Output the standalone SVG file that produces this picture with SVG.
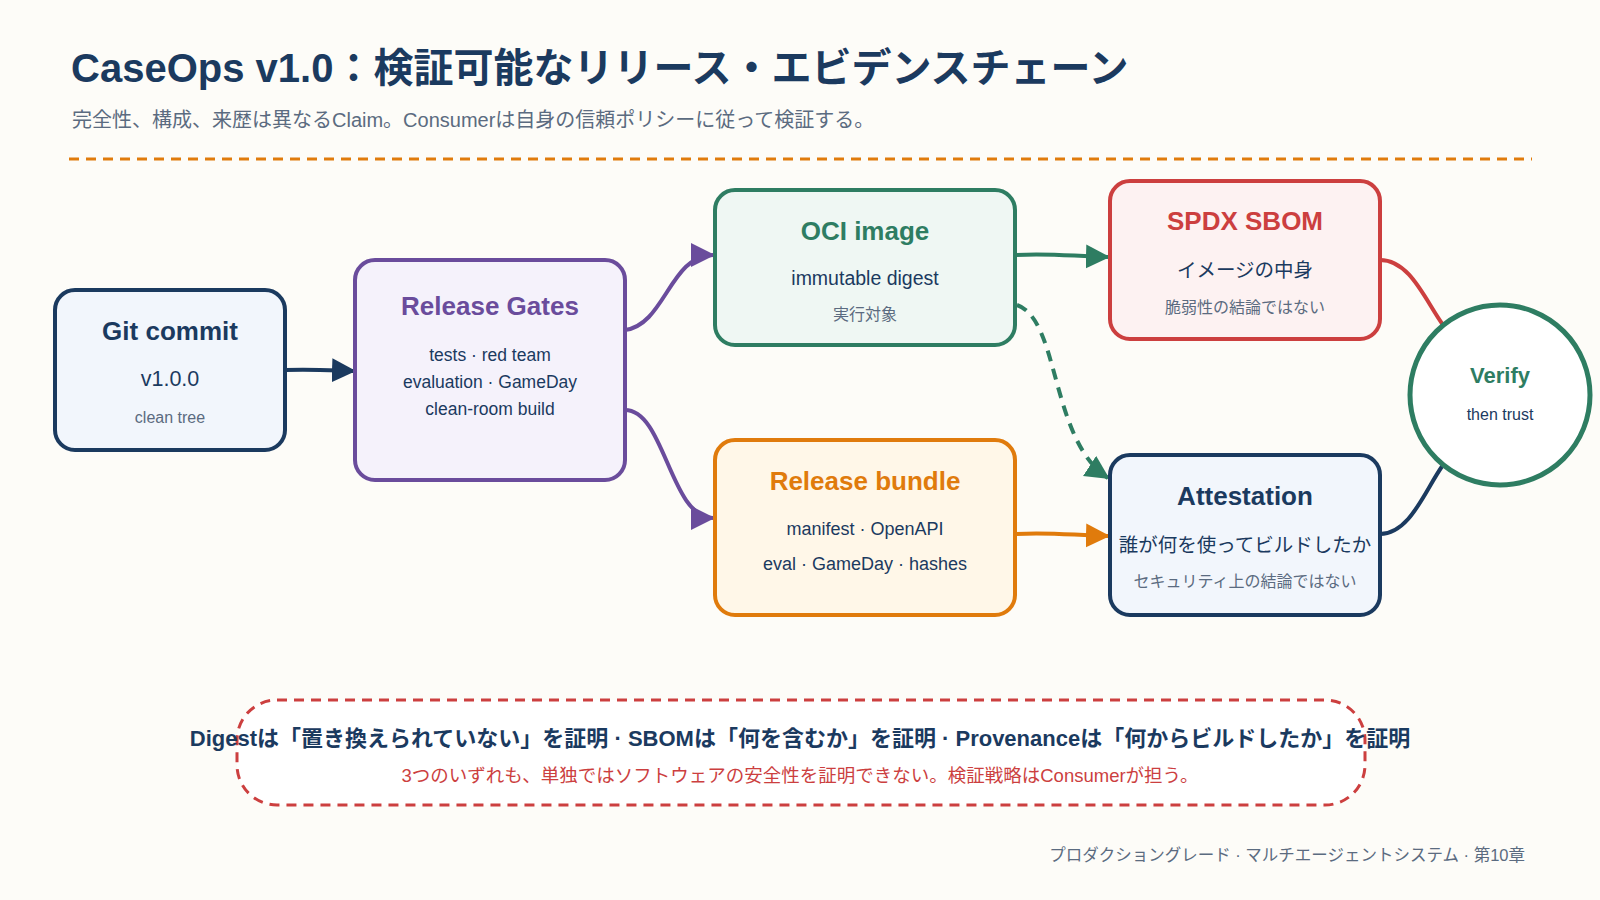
<svg xmlns="http://www.w3.org/2000/svg" width="1600" height="900" viewBox="0 0 1600 900">
<style>
text{font-family:"Liberation Sans","Noto Sans CJK JP",sans-serif;text-anchor:middle}
.box{stroke-width:4}
.t{font-size:26px;font-weight:bold}
.b{font-size:18px;fill:#1b3a5f}
.s{font-size:16px;fill:#5b6b80}
.c{fill:none;stroke-width:4}
</style>
<defs>
<marker id="mNavy" markerUnits="userSpaceOnUse" markerWidth="26" markerHeight="26" refX="22" refY="12" orient="auto"><path d="M0,0 L24,12 L0,24 z" fill="#1b3a5f"/></marker>
<marker id="mPurple" markerUnits="userSpaceOnUse" markerWidth="26" markerHeight="26" refX="22" refY="12" orient="auto"><path d="M0,0 L24,12 L0,24 z" fill="#6a4c9c"/></marker>
<marker id="mGreen" markerUnits="userSpaceOnUse" markerWidth="26" markerHeight="26" refX="22" refY="12" orient="auto"><path d="M0,0 L24,12 L0,24 z" fill="#2e7d62"/></marker>
<marker id="mOrange" markerUnits="userSpaceOnUse" markerWidth="26" markerHeight="26" refX="22" refY="12" orient="auto"><path d="M0,0 L24,12 L0,24 z" fill="#e07b0c"/></marker>
</defs>
<rect width="1600" height="900" fill="#fdfcf8"/>
<g id="header">
<text x="71" y="82" style="text-anchor:start;font-size:40px;font-weight:bold;fill:#1b3a5f">CaseOps v1.0：検証可能なリリース・エビデンスチェーン</text>
<text x="72" y="127" style="text-anchor:start;font-size:20px;fill:#5b6b80">完全性、構成、来歴は異なるClaim。Consumerは自身の信頼ポリシーに従って検証する。</text>
<line x1="69" y1="159" x2="1532" y2="159" stroke="#e07b0c" stroke-width="3" stroke-dasharray="10 7"/>
</g>
<g id="connectors">
<path class="c" d="M285,370 C310,369 325,370 354,371" stroke="#1b3a5f" marker-end="url(#mNavy)"/>
<path class="c" d="M625,330 C665,325 670,255 713,255" stroke="#6a4c9c" marker-end="url(#mPurple)"/>
<path class="c" d="M625,410 C665,410 670,518 713,518" stroke="#6a4c9c" marker-end="url(#mPurple)"/>
<path class="c" d="M1015,255 C1050,253 1070,256 1108,257" stroke="#2e7d62" marker-end="url(#mGreen)"/>
<path class="c" d="M1017,305 C1060,320 1050,440 1108,478" stroke="#2e7d62" stroke-dasharray="11 8" marker-end="url(#mGreen)"/>
<path class="c" d="M1015,534 C1050,532 1070,535 1108,536" stroke="#e07b0c" marker-end="url(#mOrange)"/>
<path class="c" d="M1380,260 C1410,260 1425,300 1443,325" stroke="#cc3f3f"/>
<path class="c" d="M1380,534 C1410,534 1425,490 1443,465" stroke="#1b3a5f"/>
</g>
<g id="git-commit">
<rect class="box" x="55" y="290" width="230" height="160" rx="20" fill="#f2f6fc" stroke="#1b3a5f"/>
<text class="t" x="170" y="340" fill="#1b3a5f">Git commit</text>
<text x="170" y="386" style="font-size:21.5px;fill:#1b3a5f">v1.0.0</text>
<text class="s" x="170" y="423">clean tree</text>
</g>
<g id="release-gates">
<rect class="box" x="355" y="260" width="270" height="220" rx="20" fill="#f5f2fb" stroke="#6a4c9c"/>
<text class="t" x="490" y="315" fill="#6a4c9c">Release Gates</text>
<text class="b" x="490" y="361" style="font-size:17.5px">tests · red team</text>
<text class="b" x="490" y="388" style="font-size:17.5px">evaluation · GameDay</text>
<text class="b" x="490" y="415" style="font-size:17.5px">clean-room build</text>
</g>
<g id="oci-image">
<rect class="box" x="715" y="190" width="300" height="155" rx="20" fill="#eff7f3" stroke="#2e7d62"/>
<text class="t" x="865" y="240" fill="#2e7d62">OCI image</text>
<text class="b" x="865" y="285" style="font-size:19.5px">immutable digest</text>
<text class="s" x="865" y="320">実行対象</text>
</g>
<g id="spdx-sbom">
<rect class="box" x="1110" y="181" width="270" height="158" rx="20" fill="#fdf2f2" stroke="#cc3f3f"/>
<text class="t" x="1245" y="230" fill="#cc3f3f">SPDX SBOM</text>
<text class="b" x="1245" y="277" style="font-size:19.5px">イメージの中身</text>
<text class="s" x="1245" y="313">脆弱性の結論ではない</text>
</g>
<g id="release-bundle">
<rect class="box" x="715" y="440" width="300" height="175" rx="20" fill="#fff7e8" stroke="#e07b0c"/>
<text class="t" x="865" y="490" fill="#e07b0c">Release bundle</text>
<text class="b" x="865" y="535">manifest · OpenAPI</text>
<text class="b" x="865" y="570">eval · GameDay · hashes</text>
</g>
<g id="attestation">
<rect class="box" x="1110" y="455" width="270" height="160" rx="20" fill="#f2f6fc" stroke="#1b3a5f"/>
<text class="t" x="1245" y="505" fill="#1b3a5f">Attestation</text>
<text class="b" x="1245" y="552" style="font-size:19.5px">誰が何を使ってビルドしたか</text>
<text class="s" x="1245" y="587">セキュリティ上の結論ではない</text>
</g>
<g id="verify">
<circle cx="1500" cy="395" r="90" fill="#ffffff" stroke="#2e7d62" stroke-width="5"/>
<text x="1500" y="383" style="font-size:22px;font-weight:bold;fill:#2e7d62">Verify</text>
<text x="1500" y="420" style="font-size:16px;fill:#1b3a5f">then trust</text>
</g>
<g id="note">
<rect x="237" y="700" width="1128" height="105" rx="40" fill="#ffffff" stroke="#cc3f3f" stroke-width="3" stroke-dasharray="10 7"/>
<text x="800" y="746" style="font-size:22px;font-weight:bold;fill:#1b3a5f">Digestは「置き換えられていない」を証明 · SBOMは「何を含むか」を証明 · Provenanceは「何からビルドしたか」を証明</text>
<text x="800" y="782" style="font-size:18.5px;fill:#cc3f3f">3つのいずれも、単独ではソフトウェアの安全性を証明できない。検証戦略はConsumerが担う。</text>
</g>
<g id="footer">
<text x="1525" y="861" style="text-anchor:end;font-size:16.5px;fill:#5b6b80">プロダクショングレード · マルチエージェントシステム · 第10章</text>
</g>
</svg>
